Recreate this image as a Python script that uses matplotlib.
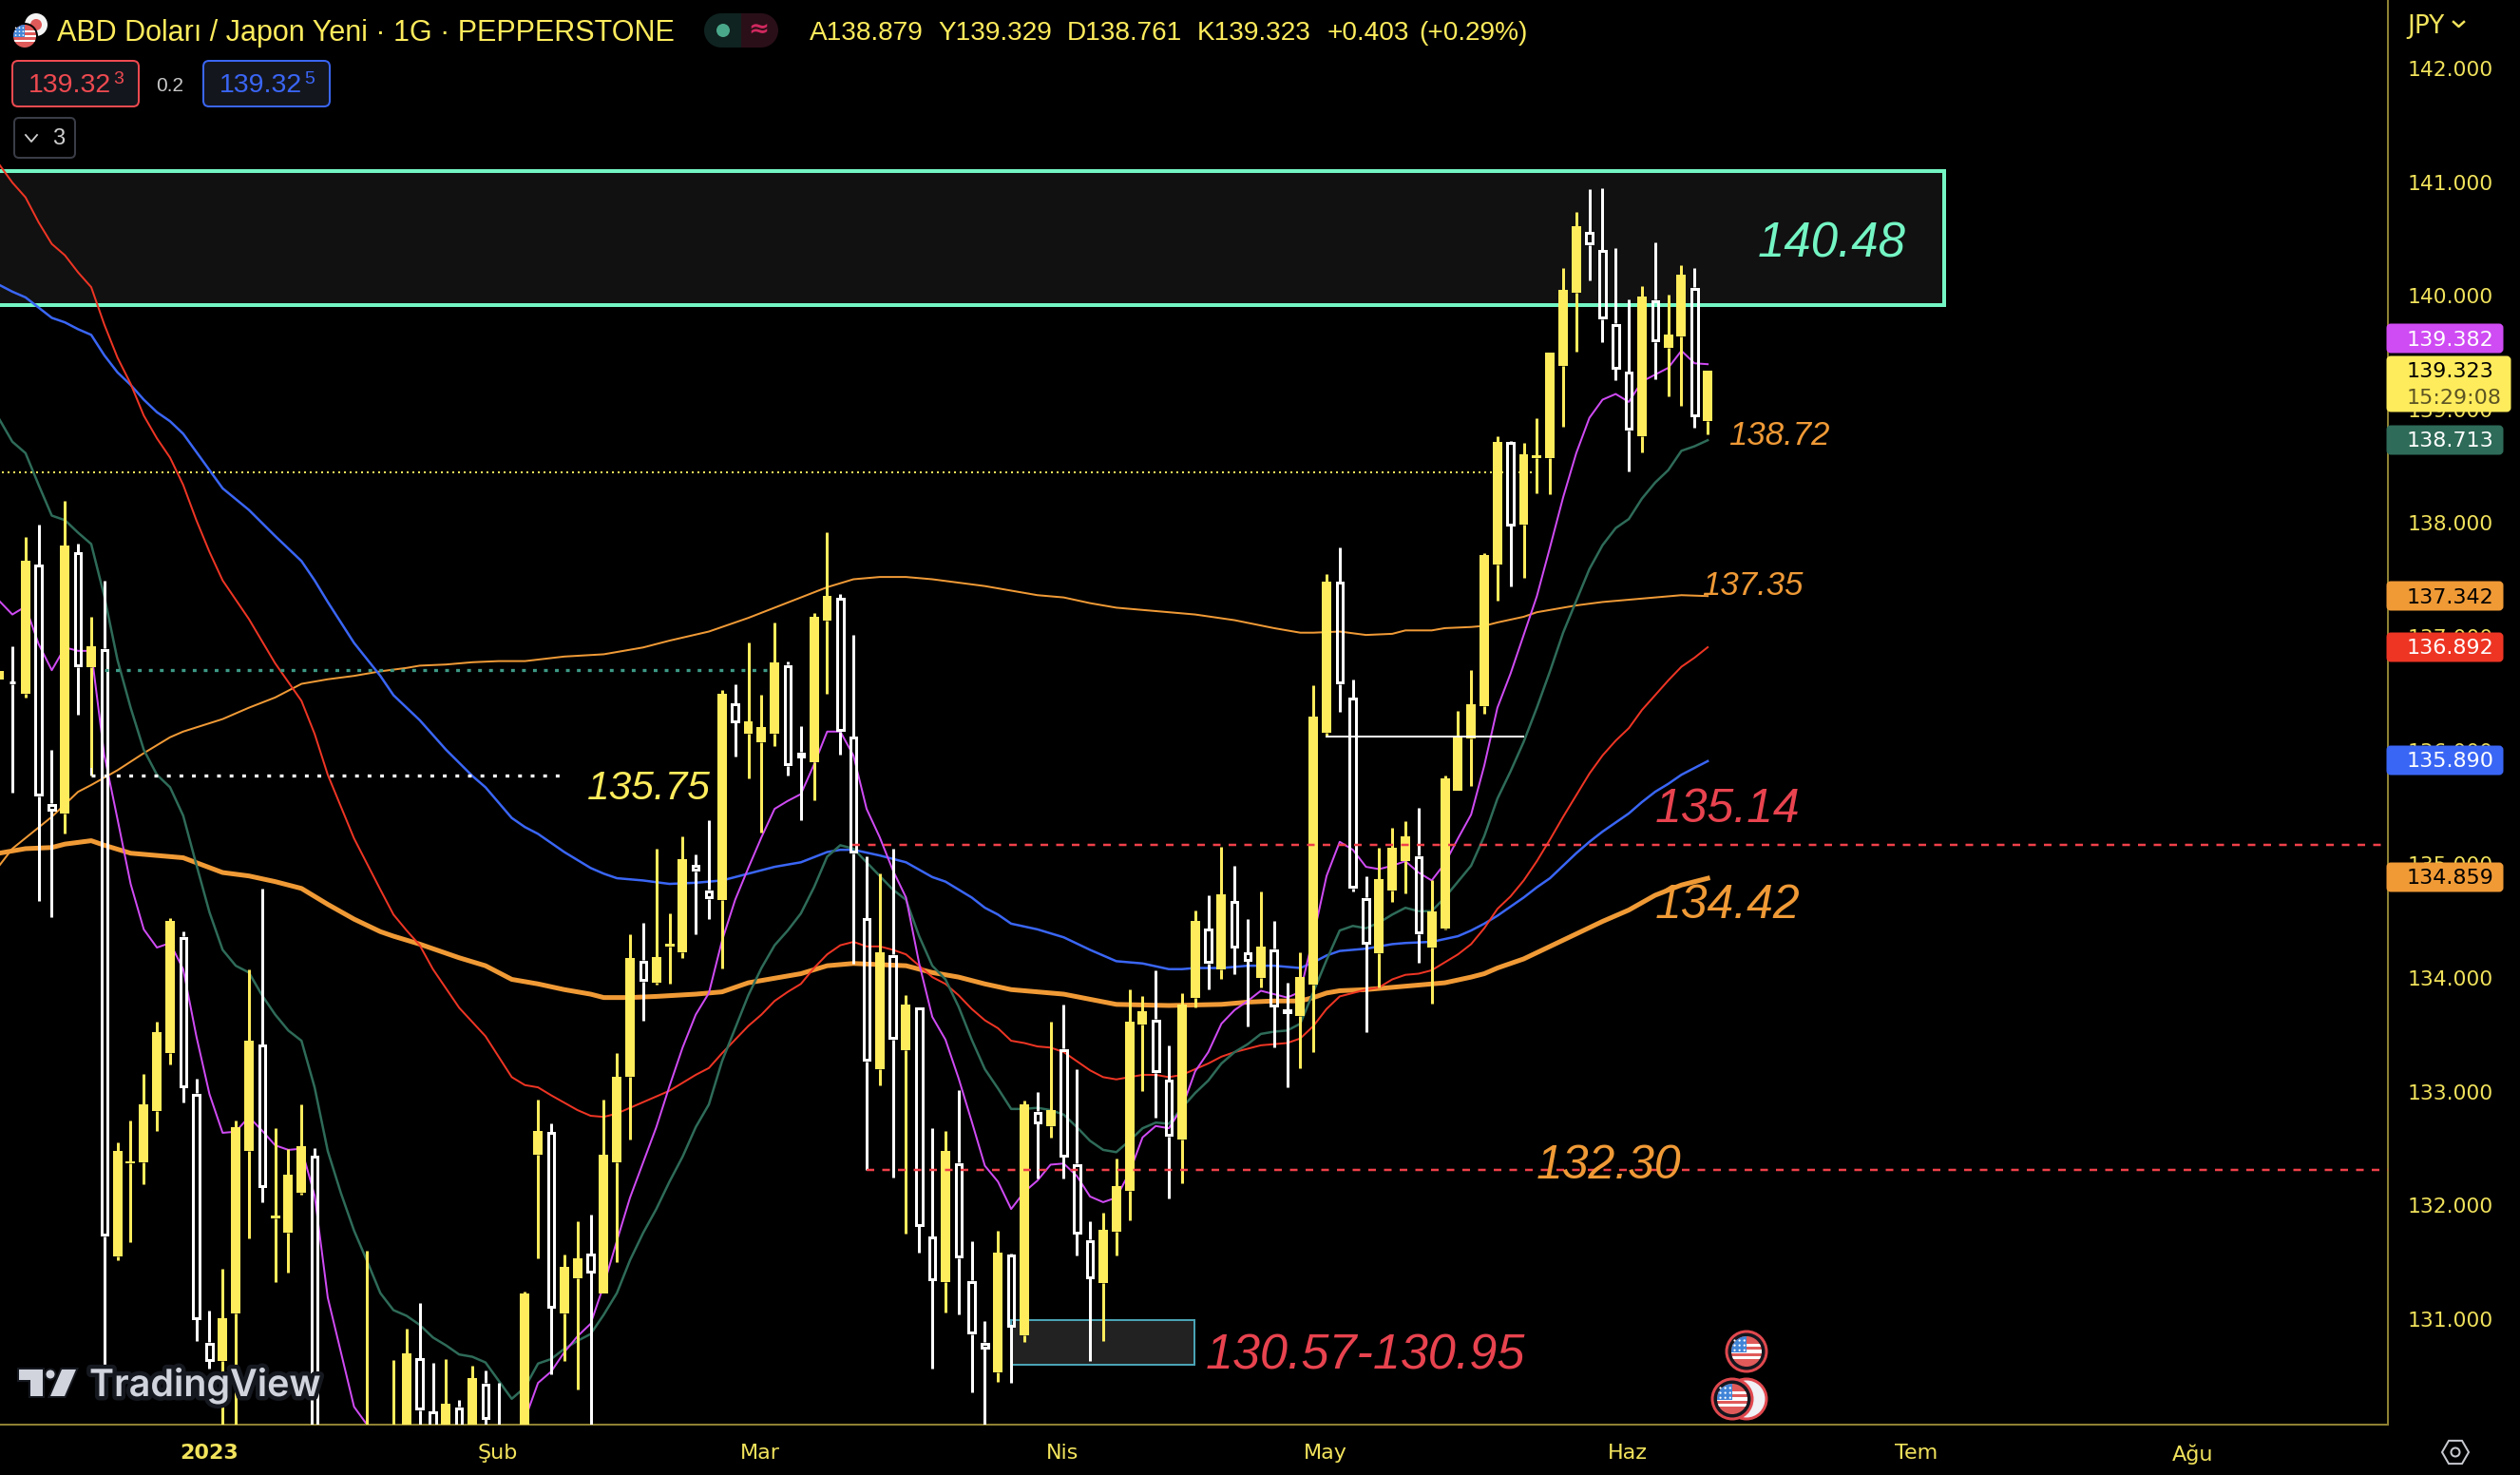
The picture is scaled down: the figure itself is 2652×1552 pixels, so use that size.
import matplotlib
matplotlib.use("Agg")
import matplotlib.pyplot as plt
import matplotlib.patheffects as pe
from matplotlib.patches import Circle, Rectangle, FancyBboxPatch, Polygon, RegularPolygon
from matplotlib.transforms import ScaledTranslation

# ---------- candles (daily OHLC; k = candle number) ----------
OPEN = [136.61,136.59,136.48,137.62,135.52,135.43,137.73,136.72,136.88,131.53,
        132.35,132.36,132.81,133.32,134.35,132.97,130.78,130.61,131.03,132.46,
        133.40,131.87,131.74,132.09,132.42,129.80,129.40,129.70,129.50,129.90,
        129.60,129.80,130.64,130.17,129.90,130.21,129.90,130.42,130.00,129.70,
        129.90,132.43,132.63,131.03,131.34,131.56,131.21,132.36,133.11,134.14,
        133.94,134.26,134.21,134.98,134.76,134.67,136.40,136.13,136.06,136.13,
        136.74,135.97,135.88,137.13,137.33,136.11,134.51,133.18,134.19,133.35,
        133.73,131.71,131.31,132.36,131.32,130.78,130.51,131.55,130.84,132.81,
        132.68,133.36,132.35,131.68,131.30,131.75,132.11,133.57,133.62,133.09,
        132.56,133.81,134.42,134.06,134.66,134.21,133.98,134.24,133.71,133.65,
        133.92,136.14,137.47,136.45,134.69,134.20,134.75,135.01,135.06,134.25,
        134.42,135.63,136.09,136.37,137.62,138.70,137.97,138.56,138.56,139.37,
        140.01,140.55,140.39,139.74,139.32,138.75,139.95,139.53,139.63,140.06,
        138.879]
HIGH = [136.68,136.90,137.86,137.97,135.99,138.18,137.80,137.16,137.48,132.54,
        132.73,133.14,133.60,134.51,134.39,133.10,131.06,131.42,132.73,134.06,
        134.77,132.66,132.48,132.87,132.49,129.95,129.90,129.95,131.58,130.00,
        130.62,130.90,131.12,130.60,130.63,130.27,130.57,130.53,130.42,129.95,
        131.22,132.91,132.70,131.55,131.84,131.90,132.91,133.32,134.37,134.47,
        135.12,134.55,135.23,135.07,135.37,136.52,136.57,136.93,136.47,137.11,
        136.77,136.20,137.19,137.90,137.36,137.00,135.05,134.90,135.12,133.83,
        133.73,132.66,132.64,133.00,131.67,130.96,131.76,131.56,132.90,132.98,
        133.60,133.75,133.18,131.84,131.92,132.39,133.88,133.82,134.05,133.39,
        133.85,134.58,134.71,135.14,134.97,134.50,134.74,134.48,133.94,134.21,
        136.56,137.54,137.77,136.61,134.88,135.13,135.30,135.36,135.48,134.84,
        135.76,136.33,136.69,137.72,138.75,138.71,138.69,138.91,139.48,140.23,
        140.72,140.92,140.93,140.40,139.95,140.07,140.45,139.99,140.25,140.23,
        139.329]
LOW = [136.61,135.61,136.45,134.66,134.52,135.25,136.30,135.76,130.58,131.50,
       131.66,132.17,132.64,133.22,132.89,130.79,130.55,129.90,129.90,131.69,
       132.01,131.31,131.39,132.08,129.60,129.30,129.20,129.30,129.30,129.50,
       129.50,129.70,129.80,129.80,129.80,129.80,129.80,129.90,129.60,129.60,
       129.85,131.52,130.50,130.61,130.36,129.90,131.21,131.48,132.56,133.61,
       133.92,133.93,134.16,134.37,134.50,134.07,135.93,135.74,135.26,136.02,
       135.76,135.37,135.55,136.48,135.95,134.11,132.29,133.04,132.23,131.73,
       131.57,130.55,131.04,131.02,130.34,130.00,130.43,130.42,130.78,132.22,
       132.58,132.22,131.54,130.61,130.79,131.54,131.85,132.99,132.75,132.04,
       132.18,133.72,133.88,133.97,134.02,133.56,133.90,133.37,133.02,133.19,
       133.33,136.11,136.32,134.74,133.51,133.90,134.65,134.73,134.12,133.76,
       134.41,135.63,135.67,136.31,137.30,137.43,137.50,138.25,138.24,138.83,
       139.49,140.12,139.58,139.24,138.44,138.61,139.25,139.10,139.02,138.82,
       138.761]
CLOSE = [136.68,136.57,137.65,135.58,135.45,137.79,136.72,136.90,131.71,132.46,
         132.37,132.87,133.51,134.48,133.02,130.98,130.61,130.99,132.67,133.43,
         132.14,131.89,132.25,132.50,129.80,129.40,129.70,129.50,129.90,129.60,
         129.95,130.68,130.18,129.90,130.24,129.90,130.46,130.10,129.70,129.85,
         131.21,132.64,131.08,131.44,131.52,131.39,132.43,133.11,134.16,133.95,
         134.17,134.28,135.03,134.92,134.68,136.48,136.23,136.24,136.19,136.76,
         135.85,135.92,137.16,137.34,136.15,135.08,133.25,134.21,133.44,133.75,
         131.80,131.32,132.46,131.52,130.85,130.72,131.57,130.91,132.87,132.70,
         132.82,132.41,131.73,131.34,131.77,132.15,133.60,133.69,133.15,132.59,
         133.75,134.48,134.11,134.72,134.25,134.13,134.26,133.73,133.67,133.99,
         136.28,137.47,136.57,134.77,134.28,134.85,135.13,135.23,134.37,134.57,
         135.74,136.11,136.39,137.70,138.70,137.96,138.59,138.58,139.48,140.04,
         140.60,140.43,139.78,139.34,138.80,139.98,139.58,139.64,140.17,138.92,
         139.323]

# ---------- moving averages (k, price) ----------
PURPLE = [(0,137.30),(1,137.18),(2,137.25),(3,136.92),(4,136.69),(5,136.89),(6,136.86),(7,136.86),(8,135.94),(9,135.38),
          (10,134.81),(11,134.41),(12,134.25),(13,134.29),(14,134.06),(15,133.47),(16,132.96),(17,132.62),(18,132.63),(19,132.76),
          (20,132.64),(21,132.51),(22,132.47),(23,132.48),(24,132.07),(25,131.17),(27,130.21),(28,130.05),(29,129.80),(34,129.50),
          (39,129.70),(40,130.10),(41,130.42),(42,130.52),(43,130.69),(44,130.83),(45,130.94),(46,131.28),(47,131.67),(48,132.05),
          (49,132.36),(50,132.67),(51,133.03),(52,133.37),(53,133.66),(54,133.85),(55,134.31),(56,134.67),(57,134.95),(58,135.22),
          (59,135.47),(60,135.54),(61,135.60),(62,135.86),(63,136.15),(64,136.15),(65,135.94),(66,135.47),(67,135.22),(68,134.93),
          (69,134.69),(70,134.11),(71,133.64),(72,133.44),(73,133.10),(74,132.72),(75,132.33),(76,132.19),(77,131.95),(78,132.10),
          (79,132.20),(80,132.34),(81,132.35),(82,132.24),(83,132.06),(84,132.01),(85,132.05),(86,132.27),(87,132.58),(88,132.68),
          (89,132.66),(90,132.84),(91,133.16),(92,133.33),(93,133.58),(94,133.70),(95,133.78),(96,133.87),(97,133.84),(98,133.81),
          (99,133.86),(100,134.35),(101,134.88),(102,135.18),(103,135.11),(104,134.96),(105,134.94),(106,134.97),(107,135.01),(108,134.91),
          (109,134.84),(110,134.99),(111,135.21),(112,135.42),(113,135.85),(114,136.36),(115,136.66),(116,137.00),(117,137.34),(118,137.77),
          (119,138.21),(120,138.60),(121,138.91),(122,139.07),(123,139.12),(124,139.05),(125,139.23),(126,139.29),(127,139.35),(128,139.50),
          (129,139.39),(130,139.382)]
GREEN = [(0,138.90),(1,138.70),(2,138.60),(3,138.32),(4,138.05),(5,138.01),(6,137.90),(7,137.80),(8,137.34),(9,136.78),
         (10,136.36),(11,135.99),(12,135.77),(13,135.66),(14,135.41),(15,134.98),(16,134.56),(17,134.23),(18,134.09),(19,134.03),
         (20,133.83),(21,133.66),(22,133.52),(23,133.43),(24,133.02),(25,132.46),(26,132.09),(27,131.76),(28,131.49),(29,131.21),
         (30,131.06),(31,131.01),(32,130.93),(33,130.82),(34,130.75),(35,130.67),(36,130.65),(37,130.60),(38,130.44),(39,130.28),
         (40,130.38),(41,130.59),(42,130.63),(43,130.72),(44,130.79),(45,130.85),(46,131.02),(47,131.21),(48,131.50),(49,131.74),
         (50,131.95),(51,132.19),(52,132.41),(53,132.67),(54,132.87),(55,133.25),(56,133.54),(57,133.83),(58,134.07),(59,134.27),
         (60,134.40),(61,134.55),(62,134.78),(63,135.05),(64,135.15),(65,135.12),(66,135.00),(67,134.88),(68,134.76),(69,134.67),
         (70,134.35),(71,134.09),(72,133.97),(73,133.73),(74,133.44),(75,133.18),(76,133.01),(77,132.83),(78,132.83),(79,132.84),
         (80,132.82),(81,132.78),(82,132.67),(83,132.55),(84,132.47),(85,132.45),(86,132.55),(87,132.66),(88,132.71),(89,132.70),
         (90,132.84),(91,132.97),(92,133.08),(93,133.23),(94,133.33),(95,133.40),(96,133.49),(97,133.51),(98,133.52),(99,133.58),
         (100,133.86),(101,134.14),(102,134.40),(103,134.44),(104,134.42),(105,134.47),(106,134.54),(107,134.60),(108,134.57),(109,134.57),
         (110,134.69),(111,134.83),(112,134.97),(113,135.23),(114,135.56),(115,135.80),(116,136.06),(117,136.36),(118,136.68),(119,137.02),
         (120,137.30),(121,137.58),(122,137.79),(123,137.94),(124,138.02),(125,138.20),(126,138.34),(127,138.45),(128,138.62),(129,138.66),
         (130,138.713)]
RED = [(0,141.14),(1,140.98),(2,140.85),(3,140.63),(4,140.44),(5,140.34),(6,140.19),(7,140.06),(8,139.73),(9,139.44),
       (10,139.21),(11,138.93),(12,138.73),(13,138.56),(14,138.32),(15,138.01),(16,137.73),(17,137.48),(19,137.14),(21,136.75),
       (23,136.42),(24,136.13),(25,135.77),(27,135.21),(29,134.76),(30,134.54),(31,134.40),(32,134.27),(33,134.06),(35,133.72),
       (37,133.47),(39,133.11),(40,133.04),(41,133.02),(42,132.95),(44,132.82),(45,132.77),(46,132.76),(47,132.79),(48,132.84),
       (49,132.89),(51,132.99),(53,133.13),(54,133.19),(55,133.32),(56,133.44),(57,133.56),(58,133.66),(59,133.78),(60,133.86),
       (61,133.93),(62,134.07),(63,134.19),(64,134.27),(65,134.30),(66,134.26),(67,134.26),(68,134.23),(69,134.19),(70,134.09),
       (71,133.99),(72,133.93),(73,133.83),(74,133.71),(75,133.61),(76,133.54),(77,133.43),(78,133.41),(79,133.38),(80,133.37),
       (81,133.33),(82,133.25),(83,133.17),(84,133.11),(85,133.09),(86,133.11),(87,133.13),(88,133.13),(89,133.11),(90,133.13),
       (91,133.18),(92,133.23),(93,133.29),(94,133.33),(96,133.39),(98,133.41),(99,133.45),(100,133.56),(101,133.71),(102,133.82),
       (104,133.88),(105,133.90),(106,133.97),(107,134.01),(108,134.02),(109,134.05),(110,134.12),(111,134.19),(112,134.28),(113,134.42),
       (114,134.59),(115,134.70),(116,134.84),(117,135.01),(118,135.20),(119,135.40),(120,135.59),(121,135.78),(122,135.94),(123,136.07),
       (124,136.18),(125,136.34),(126,136.47),(127,136.60),(128,136.72),(129,136.80),(130,136.892)]
BLUE = [(0,140.08),(1,140.02),(2,139.97),(3,139.88),(4,139.79),(5,139.75),(6,139.69),(7,139.64),(8,139.46),(9,139.31),
        (10,139.20),(11,139.07),(12,138.96),(13,138.88),(14,138.77),(15,138.61),(16,138.45),(17,138.29),(19,138.10),(21,137.87),
        (23,137.65),(24,137.48),(25,137.29),(27,136.93),(29,136.64),(30,136.47),(32,136.25),(33,136.12),(34,135.99),(36,135.76),
        (37,135.66),(39,135.39),(40,135.31),(41,135.25),(43,135.09),(45,134.95),(46,134.90),(47,134.86),(49,134.84),(51,134.81),
        (53,134.82),(55,134.84),(57,134.90),(59,134.96),(61,135.00),(63,135.09),(64,135.11),(65,135.11),(67,135.06),(69,135.00),
        (71,134.87),(72,134.83),(74,134.69),(75,134.60),(76,134.54),(77,134.46),(79,134.41),(81,134.34),(83,134.23),(85,134.13),
        (87,134.11),(89,134.06),(90,134.06),(91,134.07),(93,134.07),(95,134.09),(97,134.09),(99,134.07),(100,134.12),(101,134.18),
        (102,134.22),(104,134.24),(106,134.28),(107,134.29),(109,134.30),(111,134.35),(112,134.40),(113,134.46),(114,134.53),(115,134.61),
        (116,134.69),(117,134.78),(118,134.86),(119,134.97),(120,135.08),(121,135.18),(122,135.27),(123,135.35),(124,135.43),(125,135.53),
        (126,135.62),(127,135.69),(128,135.77),(129,135.83),(130,135.890)]
ORANGE_THICK = [(0,135.08),(2,135.12),(4,135.13),(5,135.16),(7,135.19),(8,135.15),(10,135.08),(12,135.06),(14,135.04),(17,134.91),
                (19,134.88),(21,134.83),(23,134.77),(25,134.63),(27,134.50),(29,134.39),(30,134.35),(32,134.28),(34,134.20),(35,134.16),
                (37,134.09),(39,133.97),(41,133.93),(43,133.88),(45,133.84),(46,133.81),(48,133.81),(50,133.82),(53,133.84),(55,133.86),
                (57,133.94),(61,134.02),(63,134.09),(65,134.11),(69,134.09),(71,134.03),(73,133.99),(75,133.93),(77,133.88),(81,133.84),
                (85,133.75),(89,133.74),(93,133.75),(95,133.77),(97,133.78),(99,133.78),(100,133.81),(101,133.85),(102,133.87),(104,133.88),
                (107,133.91),(109,133.93),(110,133.94),(112,133.99),(113,134.02),(114,134.07),(116,134.15),(118,134.26),(120,134.37),(122,134.48),
                (124,134.58),(126,134.71),(128,134.80),(130,134.859)]
ORANGE_THIN = [(0,134.97),(1,135.12),(4,135.40),(6,135.62),(7,135.68),(9,135.81),(11,135.96),(13,136.10),(14,136.15),(17,136.26),
               (19,136.36),(21,136.45),(23,136.57),(25,136.61),(27,136.64),(29,136.68),(31,136.71),(32,136.73),(34,136.74),(36,136.76),
               (38,136.77),(40,136.77),(43,136.81),(46,136.83),(49,136.89),(51,136.95),(54,137.03),(57,137.15),(59,137.24),(61,137.33),
               (63,137.42),(65,137.49),(67,137.51),(69,137.51),(71,137.49),(73,137.46),(75,137.43),(77,137.39),(79,137.35),(81,137.33),
               (83,137.28),(85,137.24),(87,137.22),(89,137.20),(91,137.18),(94,137.13),(97,137.06),(99,137.02),(100,137.02),(102,137.03),
               (104,137.00),(106,137.01),(107,137.04),(109,137.04),(110,137.06),(112,137.07),(113,137.08),(114,137.11),(116,137.16),(117,137.20),
               (119,137.24),(120,137.26),(122,137.29),(124,137.31),(126,137.33),(128,137.35),(130,137.342)]

# ---------- levels and labels ----------
ZONE_TOP, ZONE_BOTTOM = 141.08, 139.90
LOW_ZONE_TOP, LOW_ZONE_BOTTOM = 130.97, 130.58
PRICE_TICKS = [131, 132, 133, 134, 135, 136, 137, 138, 139, 140, 141, 142]
MONTH_POS = [15.97, 37.95, 57.9, 80.9, 100.9, 123.9, 145.9, 166.9]
MONTH_LABELS = ["2023", "Şub", "Mar", "Nis", "May", "Haz", "Tem", "Ağu"]
TAGS = [("139.382", 339, 373, "#cf4bf3", "white", 358), ("138.713", 446, 480, "#2e6b58", "white", 464),
        ("137.342", 610, 644, "#f09a36", "black", 629), ("136.892", 664, 698, "#ee3524", "white", 682.5),
        ("135.890", 783, 817, "#3a66f5", "white", 801), ("134.859", 906, 940, "#f09a36", "black", 924)]
ANNOTATIONS = [("140.48", 1928, 257, 36.7, "#74f5c4"), ("138.72", 1872, 458, 25, "#f09a36"),
               ("137.35", 1844, 616, 25, "#f09a36"), ("135.75", 683, 830, 30.6, "#ffec5c"),
               ("135.14", 1818, 852, 36, "#e8434f"), ("134.42", 1818, 953, 36, "#f09a36"),
               ("132.30", 1693, 1227, 36, "#f09a36"), ("130.57-130.95", 1437, 1427, 37.5, "#e8434f")]

YEL, WHITE = "#ffec5c", "#ffffff"
PX = 0.72  # points per pixel at dpi 100
plt.rcParams["font.family"] = ["Liberation Sans", "DejaVu Sans"]

fig = plt.figure(figsize=(26.52, 15.52), dpi=100, facecolor="black")
ax = fig.add_axes([0, 1 - 1498.5 / 1552, 2513 / 2652, 1498.5 / 1552], facecolor="black")
ax.set_xlim(0.06, 181.76)
ax.set_ylim(130.057, 142.586)
unit = 119.6  # pixels per price unit

# zones (below candles)
ax.add_patch(Rectangle((-5, ZONE_BOTTOM), 153, ZONE_TOP - ZONE_BOTTOM, fc="#111111", ec="#74f5c4", lw=4 * PX, zorder=1))
ax.add_patch(Rectangle((77, LOW_ZONE_BOTTOM), 13.95, LOW_ZONE_TOP - LOW_ZONE_BOTTOM, fc="#222222", ec="#4aa3b5", lw=2 * PX, zorder=1))

# moving averages
for series, col, lw in [(ORANGE_THIN, "#f09a36", 2), (ORANGE_THICK, "#f09a36", 5), (BLUE, "#3a66f5", 2.5),
                        (RED, "#ee3524", 2), (GREEN, "#2e6b58", 2.5), (PURPLE, "#cf4bf3", 2)]:
    ax.plot([a for a, _ in series], [b for _, b in series], color=col, lw=lw * PX, zorder=2, solid_joinstyle="round")

# candles
for k, (o, h, l, c) in enumerate(zip(OPEN, HIGH, LOW, CLOSE)):
    up = c >= o
    col = YEL if up else WHITE
    top, bot = max(o, c), min(o, c)
    lines = ax.vlines([k, k], [top, l], [h, bot], color=col, lw=3 * PX, zorder=3)
    lines.set_capstyle("butt")
    if up:
        ax.bar(k, top - bot, bottom=bot, width=0.72, color=col, lw=0, zorder=4)
    else:
        ins = 1.5 / unit
        ax.bar(k, max(top - bot - 2 * ins, 0.002), bottom=bot + ins, width=0.47, facecolor="none",
               edgecolor=col, lw=3 * PX, zorder=4)

# drawings above candles
ax.hlines(135.15, 64.9, 181.76, color="#f0404a", lw=2.5 * PX, linestyles=(0, (3.2, 3.4)), zorder=5)
ax.hlines(132.29, 66, 181.76, color="#f0404a", lw=2.5 * PX, linestyles=(0, (3.2, 3.4)), zorder=5)
ax.hlines(136.11, 100.9, 116, color=WHITE, lw=2 * PX, zorder=5)
ax.hlines(135.76, 7, 43, color=WHITE, lw=3.3 * PX, linestyles=(0, (1.2, 2.8)), zorder=5)
ax.hlines(136.69, 8, 58.6, color="#3d9a86", lw=3.3 * PX, linestyles=(0, (1.2, 2.3)), zorder=5)
ax.hlines(138.43, 0.2, 116.6, color=YEL, lw=2 * PX, linestyles=(0, (1, 2)), zorder=2.5)
ax.vlines(7, 135.76, 135.83, color=WHITE, lw=2 * PX, zorder=5)

# axes
for s in ("left", "top"):
    ax.spines[s].set_visible(False)
for s in ("right", "bottom"):
    ax.spines[s].set_color("#8f8133")
    ax.spines[s].set_linewidth(2 * PX)
ax.yaxis.tick_right()
ax.set_yticks(PRICE_TICKS)
ax.set_yticklabels([f"{p:.3f}" for p in PRICE_TICKS], family="DejaVu Sans", fontsize=15.7, color="#f2e35c")
ax.set_xticks(MONTH_POS)
ax.set_xticklabels(MONTH_LABELS, family="DejaVu Sans", fontsize=16, color="#f2e35c")
ax.get_xticklabels()[0].set_fontweight("bold")
ax.tick_params(axis="y", length=0, pad=15)
ax.tick_params(axis="x", length=0, pad=15)
for lab in ax.get_yticklabels():
    lab.set_transform(lab.get_transform() + ScaledTranslation(0, -2 / 100, fig.dpi_scale_trans))

# overlay in pixel coordinates for header, tags and icons
ov = fig.add_axes([0, 0, 1, 1], zorder=10)
ov.set_xlim(0, 2652)
ov.set_ylim(1552, 0)
ov.axis("off")
ov.patch.set_alpha(0)

def tag(x0, y0, x1, y1, col):
    ov.add_patch(FancyBboxPatch((x0, y0 + 3), x1 - x0 - 3, y1 - y0 - 6, boxstyle="round,pad=0,rounding_size=3",
                                fc=col, ec=col, lw=3 * PX, mutation_aspect=1))

for txt, y0, y1, col, tcol, yc in TAGS:
    tag(2513, y0, 2636, y1, col)
    ov.text(2533, yc, txt, family="DejaVu Sans", fontsize=16, color=tcol, va="center", ha="left")
tag(2513, 373, 2644, 435, YEL)
ov.text(2533, 391, "139.323", family="DejaVu Sans", fontsize=16, color="black", va="center")
ov.text(2533, 419, "15:29:08", family="DejaVu Sans", fontsize=16, color="#5c5424", va="center")
ov.text(2533, 28, "JPY", family="DejaVu Sans", fontsize=19, color="#f2e35c", va="center")
ov.plot([2582, 2587.5, 2593], [23, 28, 23], color="#f2e35c", lw=1.8)

for txt, x, y, fs, col in ANNOTATIONS:
    ov.text(x, y, txt, fontsize=fs, color=col, style="italic", ha="center", va="center")

# header
ov.text(60, 35, "ABD Doları / Japon Yeni · 1G · PEPPERSTONE", fontsize=22, color=YEL, va="center")
for txt, x in [("A138.879", 852), ("Y139.329", 987), ("D138.761", 1123), ("K139.323", 1260),
               ("+0.403", 1397), ("(+0.29%)", 1493)]:
    ov.text(x, 35, txt, fontsize=20.2, color=YEL, va="center")
ov.add_patch(FancyBboxPatch((760, 14), 40, 36, boxstyle="round,pad=0,rounding_size=1", fc="#0f2320", ec="none"))
ov.add_patch(Circle((759, 32), 18, fc="#0f2320", ec="none"))
ov.add_patch(Rectangle((780, 14), 21, 36, fc="#2a0f18", ec="none"))
ov.add_patch(Circle((801, 32), 18, fc="#2a0f18", ec="none"))
ov.add_patch(Circle((761, 32), 7, fc="#4aa88a", ec="none"))
ov.text(798, 31, "≈", family="DejaVu Sans", fontsize=19, color="#d0285f", ha="center", va="center", fontweight="bold")

for x0, col, main, sup in [(13, "#ee4a50", "139.32", "3"), (214, "#3a66f5", "139.32", "5")]:
    ov.add_patch(FancyBboxPatch((x0, 64), 133, 48, boxstyle="round,pad=0,rounding_size=6", fc="#14161e", ec=col, lw=2 * PX))
    ov.text(x0 + 17, 90, main, fontsize=20.5, color=col, va="center")
    ov.text(x0 + 106, 83, sup, fontsize=14, color=col, va="center")
ov.text(179, 90, "0.2", fontsize=15, color="#c8c8c8", ha="center", va="center")
ov.add_patch(FancyBboxPatch((15, 124), 64, 42, boxstyle="round,pad=0,rounding_size=5", fc="black", ec="#3a3d47", lw=2 * PX))
ov.plot([27, 33, 39], [142, 149, 142], color="#d0d0d0", lw=1.3)
ov.text(62, 146, "3", fontsize=17, color="#d0d0d0", ha="center", va="center")

def us_flag(cx, cy, r):
    base = Circle((cx, cy), r, fc="#e05a5a", ec="none")
    ov.add_patch(base)
    for frac in [-0.42, 0.0, 0.42]:
        s = Rectangle((cx - r, cy + frac * r - 0.1 * r), 2 * r, 0.2 * r, fc="white", ec="none")
        ov.add_patch(s)
        s.set_clip_path(base)
    c = Rectangle((cx - r, cy - r), r, r * 1.05, fc="#4185d8", ec="none")
    ov.add_patch(c)
    c.set_clip_path(base)
    for i in range(3):
        for j in range(3):
            ov.add_patch(Circle((cx - 0.78 * r + j * 0.32 * r, cy - 0.72 * r + i * 0.32 * r), 0.07 * r, fc="white", ec="none"))

# header flag
ov.add_patch(Circle((38, 26), 12, fc="#f4f4f4", ec="none"))
ov.add_patch(Circle((38, 26), 6, fc="#e05a5a", ec="none"))
ov.add_patch(Circle((26, 38), 14, fc="black", ec="none"))
us_flag(26, 38, 12)

# event icons
ov.add_patch(Circle((1838, 1472), 21, fc="#f0f0f5", ec="#e0484e", lw=3 * PX))
ov.add_patch(Circle((1823, 1472), 21, fc="#14161e", ec="#e0484e", lw=3 * PX))
us_flag(1823, 1472, 16)
ov.add_patch(Circle((1838, 1422), 21, fc="#14161e", ec="#e0484e", lw=3 * PX))
us_flag(1838, 1422, 16)

# gear
ov.add_patch(RegularPolygon((2584, 1528), 6, radius=14, orientation=3.14159 / 6, fc="none", ec="#c8cad0", lw=2 * PX))
ov.add_patch(Circle((2584, 1528), 4.5, fc="none", ec="#c8cad0", lw=2 * PX))

# TradingView watermark
halo = [pe.withStroke(linewidth=9 * PX, foreground="#15181f")]
wm = "#d1d4dc"
for pts in ([(20, 1441), (45, 1441), (45, 1469), (32, 1469), (32, 1452), (20, 1452)],
            [(65, 1441), (80, 1441), (68, 1469), (53, 1469)]):
    ov.add_patch(Polygon(pts, closed=True, fc=wm, ec="#15181f", lw=4 * PX))
    ov.add_patch(Polygon(pts, closed=True, fc=wm, ec="none"))
ov.add_patch(Circle((53, 1446), 5.5, fc=wm, ec="#15181f", lw=2 * PX))
ov.text(94, 1469, "TradingView", family=["Inter", "DejaVu Sans"], fontweight="semibold", fontsize=28.4, color=wm,
        va="baseline", ha="left", path_effects=halo)

fig.savefig("out.png", dpi=100, facecolor="black")
